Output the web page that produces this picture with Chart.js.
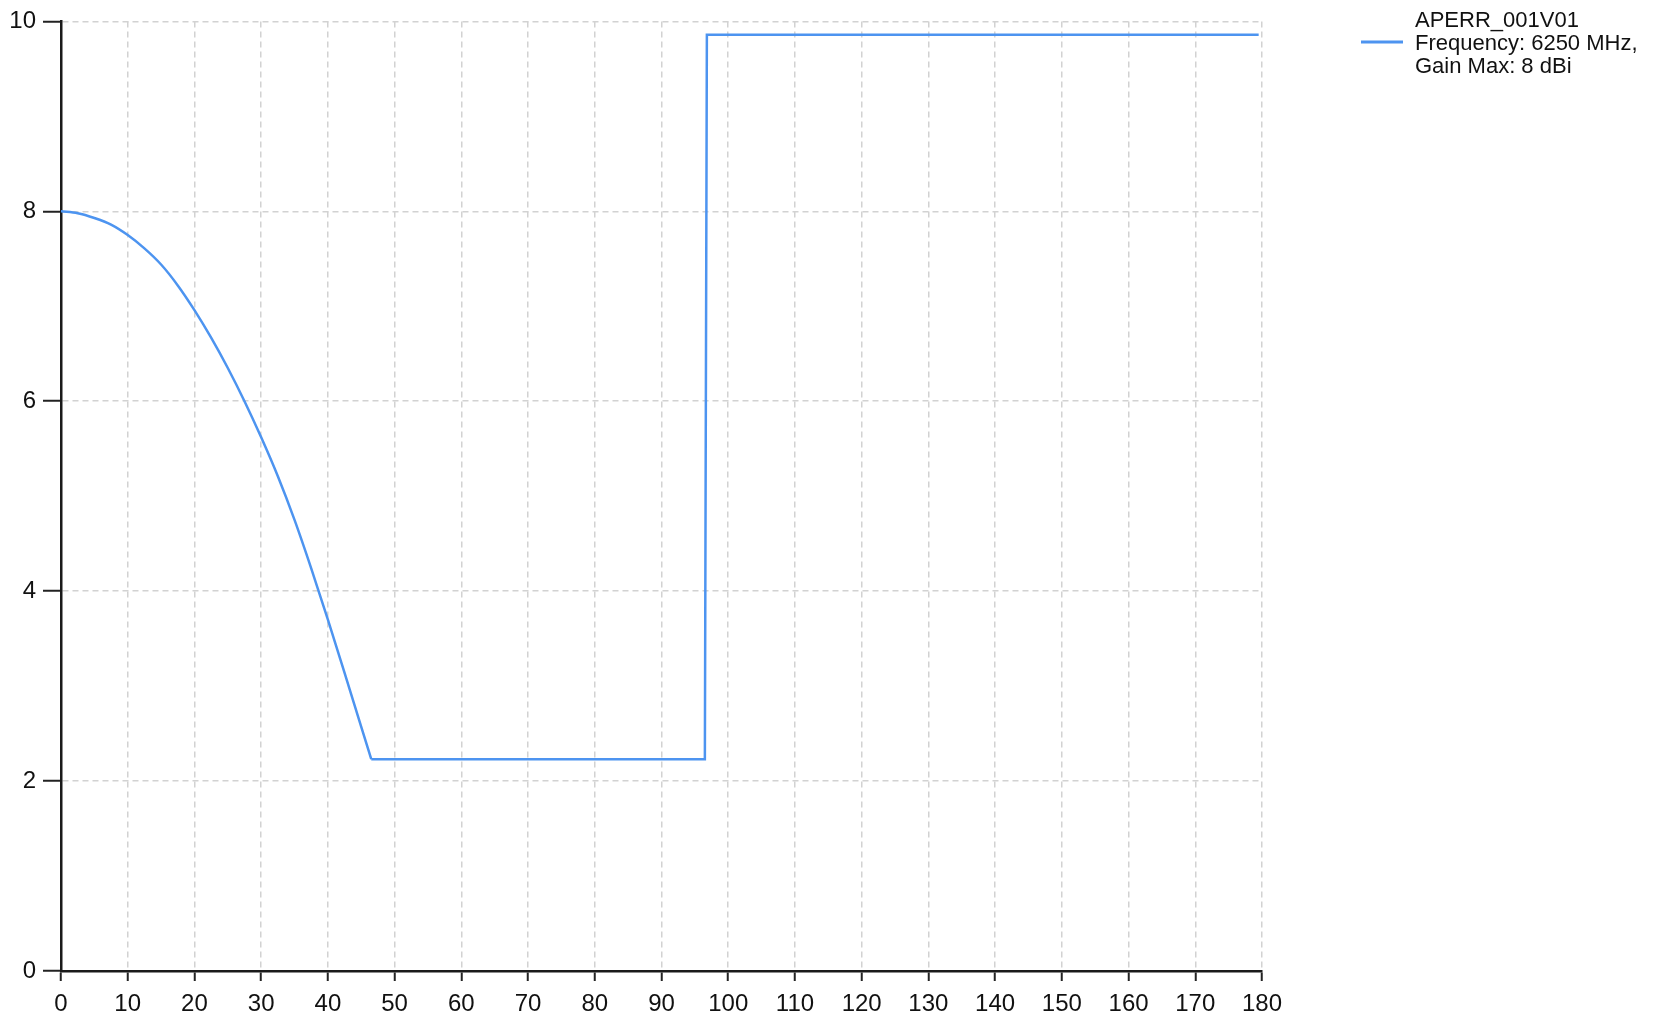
<!DOCTYPE html>
<html>
<head>
<meta charset="utf-8">
<script src="https://cdn.jsdelivr.net/npm/chart.js@4/dist/chart.umd.min.js"></script>
<style>
  html, body { margin: 0; padding: 0; background: #fff; }
  #wrap { width: 1657px; height: 1014px; position: relative; }
</style>
</head>
<body>
<div id="wrap"><canvas id="chart"></canvas></div>
<script>
// gain pattern (angle in degrees, gain in dBi)
// main lobe, smooth part
const lobeAngles = [0, 2.5, 5, 7.5, 10, 12.5, 15, 17.5, 20, 22.5, 25, 27.5, 30, 32.5, 35, 37.5, 40, 42.5, 45, 46.5];
const lobeGains = [8.00, 7.98, 7.93, 7.86, 7.75, 7.61, 7.44, 7.22, 6.96, 6.67, 6.35, 6.00, 5.62, 5.21, 4.75, 4.24, 3.70, 3.14, 2.57, 2.23];
// floor and back level, straight segments
const stepAngles = [46.5, 96.5, 96.8, 179.5];
const stepGains = [2.23, 2.23, 9.86, 9.86];

const seriesLabel = ["APERR_001V01", "Frequency: 6250 MHz,", "Gain Max: 8 dBi"];
const lineColor = "rgb(77,148,240)";

const xTicks = { min: 0, max: 180, step: 10 };
const yTicks = { min: 0, max: 10, step: 2 };

const fontFamily = "'Liberation Sans', Arial, sans-serif";

// legend drawn by hand, the label has three lines
const sideLegend = {
  id: "sideLegend",
  afterDraw(chart) {
    const ctx = chart.ctx;
    ctx.save();
    ctx.strokeStyle = lineColor;
    ctx.lineWidth = 3;
    ctx.beginPath();
    ctx.moveTo(1361, 42);
    ctx.lineTo(1403, 42);
    ctx.stroke();
    ctx.fillStyle = "#111";
    ctx.font = "22px " + fontFamily;
    ctx.textBaseline = "alphabetic";
    seriesLabel.forEach((t, i) => {
      ctx.fillText(t, 1415, 27 + i * 23);
    });
    ctx.restore();
  },
};

const toPoints = (xs, ys) => xs.map((a, i) => ({ x: a, y: ys[i] }));

const ctx = document.getElementById("chart").getContext("2d");

new Chart(ctx, {
  type: "line",
  data: {
    datasets: [
      {
        label: seriesLabel.join(" "),
        data: toPoints(lobeAngles, lobeGains),
        borderColor: lineColor,
        borderWidth: 2.5,
        pointRadius: 0,
        fill: false,
        cubicInterpolationMode: "monotone",
      },
      {
        label: seriesLabel.join(" "),
        data: toPoints(stepAngles, stepGains),
        borderColor: lineColor,
        borderWidth: 2.5,
        pointRadius: 0,
        fill: false,
        tension: 0,
      },
    ],
  },
  options: {
    responsive: true,
    maintainAspectRatio: false,
    animation: false,
    layout: {
      padding: { left: 0, top: 19, right: 395, bottom: 0 },
    },
    plugins: {
      legend: { display: false },
      tooltip: { enabled: false },
    },
    scales: {
      x: {
        type: "linear",
        min: xTicks.min,
        max: xTicks.max,
        afterFit: (scale) => { scale.height = 43; },
        ticks: {
          stepSize: xTicks.step,
          color: "#111",
          font: { family: fontFamily, size: 24 },
          padding: 9,
          maxRotation: 0,
        },
        grid: {
          color: "#d2d2d2",
          lineWidth: 1.5,
          tickLength: 10,
          tickColor: "#222",
          tickWidth: 2,
          tickBorderDash: [],
        },
        border: { color: "#1a1a1a", width: 2.5, dash: [6, 4] },
      },
      y: {
        min: yTicks.min,
        max: yTicks.max,
        afterFit: (scale) => { scale.width = 61; },
        ticks: {
          stepSize: yTicks.step,
          color: "#111",
          font: { family: fontFamily, size: 24 },
          padding: 7,
        },
        grid: {
          color: "#d2d2d2",
          lineWidth: 1.5,
          tickLength: 18,
          tickColor: "#222",
          tickWidth: 2,
          tickBorderDash: [],
        },
        border: { color: "#1a1a1a", width: 2.5, dash: [6, 4] },
      },
    },
  },
  plugins: [sideLegend],
});
</script>
</body>
</html>
